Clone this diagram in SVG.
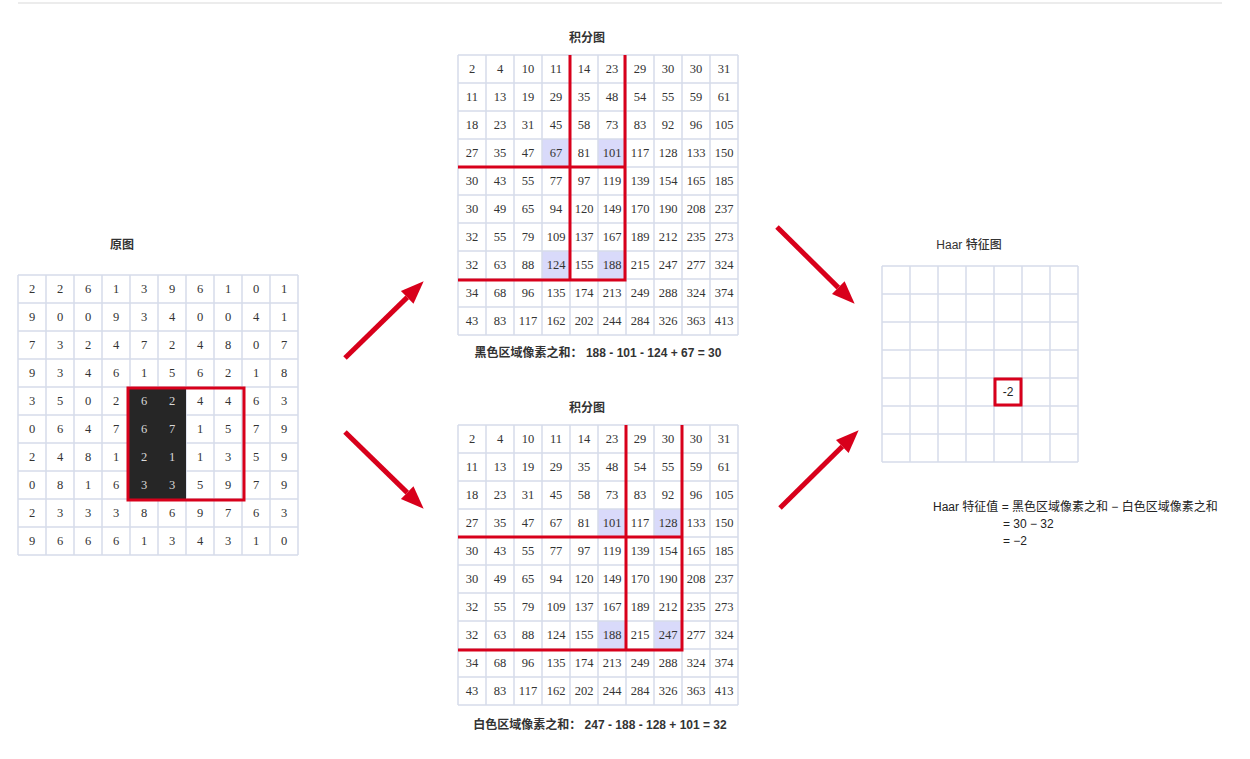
<svg xmlns="http://www.w3.org/2000/svg" width="1250" height="759" viewBox="0 0 1250 759">
<style>
.grid{fill:none;stroke:#d6dcea;stroke-width:1.5}
.num{font-family:"Liberation Serif","Times New Roman",serif;font-size:12.5px;fill:#333;text-anchor:middle}
.lt{fill:#d9d9d9}
.title{font-family:"Liberation Sans","Noto Sans CJK SC",sans-serif;font-size:12px;font-weight:bold;fill:#333;text-anchor:middle}
.cap{font-family:"Liberation Sans","Noto Sans CJK SC",sans-serif;font-size:12px;font-weight:bold;fill:#333;text-anchor:middle}
.txt{font-family:"Liberation Sans","Noto Sans CJK SC",sans-serif;font-size:12px;fill:#222}
.red{fill:none;stroke:#d8001b;stroke-width:3}
.hl{fill:#d9dafa}
.arrow{stroke:#d8001b;stroke-width:5;fill:none;marker-end:url(#ah)}
</style>
<defs>
<marker id="ah" markerUnits="userSpaceOnUse" markerWidth="24" markerHeight="20" viewBox="0 -10 24 20" refX="0" refY="0" orient="auto" overflow="visible">
<path d="M0,-9 L23,0 L0,9 Z" fill="#d8001b"/>
</marker>
</defs>
<rect width="1250" height="759" fill="#fff"/>
<line x1="18" y1="3" x2="1222" y2="3" stroke="#e6e6e6" stroke-width="1.5"/>

<g id="original">
<text class="title" x="122" y="249">原图</text>
<path class="grid" d="M18,275H298M18,303H298M18,331H298M18,359H298M18,387H298M18,415H298M18,443H298M18,471H298M18,499H298M18,527H298M18,555H298M18,275V555M46,275V555M74,275V555M102,275V555M130,275V555M158,275V555M186,275V555M214,275V555M242,275V555M270,275V555M298,275V555"/>
<rect x="129" y="387" width="57" height="113" fill="#262626"/>
<text class="num" y="293"><tspan x="32">2</tspan><tspan x="60">2</tspan><tspan x="88">6</tspan><tspan x="116">1</tspan><tspan x="144">3</tspan><tspan x="172">9</tspan><tspan x="200">6</tspan><tspan x="228">1</tspan><tspan x="256">0</tspan><tspan x="284">1</tspan></text>
<text class="num" y="321"><tspan x="32">9</tspan><tspan x="60">0</tspan><tspan x="88">0</tspan><tspan x="116">9</tspan><tspan x="144">3</tspan><tspan x="172">4</tspan><tspan x="200">0</tspan><tspan x="228">0</tspan><tspan x="256">4</tspan><tspan x="284">1</tspan></text>
<text class="num" y="349"><tspan x="32">7</tspan><tspan x="60">3</tspan><tspan x="88">2</tspan><tspan x="116">4</tspan><tspan x="144">7</tspan><tspan x="172">2</tspan><tspan x="200">4</tspan><tspan x="228">8</tspan><tspan x="256">0</tspan><tspan x="284">7</tspan></text>
<text class="num" y="377"><tspan x="32">9</tspan><tspan x="60">3</tspan><tspan x="88">4</tspan><tspan x="116">6</tspan><tspan x="144">1</tspan><tspan x="172">5</tspan><tspan x="200">6</tspan><tspan x="228">2</tspan><tspan x="256">1</tspan><tspan x="284">8</tspan></text>
<text class="num" y="405"><tspan x="32">3</tspan><tspan x="60">5</tspan><tspan x="88">0</tspan><tspan x="116">2</tspan><tspan class="lt" x="144">6</tspan><tspan class="lt" x="172">2</tspan><tspan x="200">4</tspan><tspan x="228">4</tspan><tspan x="256">6</tspan><tspan x="284">3</tspan></text>
<text class="num" y="433"><tspan x="32">0</tspan><tspan x="60">6</tspan><tspan x="88">4</tspan><tspan x="116">7</tspan><tspan class="lt" x="144">6</tspan><tspan class="lt" x="172">7</tspan><tspan x="200">1</tspan><tspan x="228">5</tspan><tspan x="256">7</tspan><tspan x="284">9</tspan></text>
<text class="num" y="461"><tspan x="32">2</tspan><tspan x="60">4</tspan><tspan x="88">8</tspan><tspan x="116">1</tspan><tspan class="lt" x="144">2</tspan><tspan class="lt" x="172">1</tspan><tspan x="200">1</tspan><tspan x="228">3</tspan><tspan x="256">5</tspan><tspan x="284">9</tspan></text>
<text class="num" y="489"><tspan x="32">0</tspan><tspan x="60">8</tspan><tspan x="88">1</tspan><tspan x="116">6</tspan><tspan class="lt" x="144">3</tspan><tspan class="lt" x="172">3</tspan><tspan x="200">5</tspan><tspan x="228">9</tspan><tspan x="256">7</tspan><tspan x="284">9</tspan></text>
<text class="num" y="517"><tspan x="32">2</tspan><tspan x="60">3</tspan><tspan x="88">3</tspan><tspan x="116">3</tspan><tspan x="144">8</tspan><tspan x="172">6</tspan><tspan x="200">9</tspan><tspan x="228">7</tspan><tspan x="256">6</tspan><tspan x="284">3</tspan></text>
<text class="num" y="545"><tspan x="32">9</tspan><tspan x="60">6</tspan><tspan x="88">6</tspan><tspan x="116">6</tspan><tspan x="144">1</tspan><tspan x="172">3</tspan><tspan x="200">4</tspan><tspan x="228">3</tspan><tspan x="256">1</tspan><tspan x="284">0</tspan></text>
<rect class="red" x="128" y="388" width="116" height="112"/>
</g>

<g id="integral-black">
<text class="title" x="587" y="42">积分图</text>
<rect class="hl" x="542" y="139" width="28" height="28"/>
<rect class="hl" x="598" y="139" width="28" height="28"/>
<rect class="hl" x="542" y="251" width="28" height="28"/>
<rect class="hl" x="598" y="251" width="28" height="28"/>
<path class="grid" d="M458,55H738M458,83H738M458,111H738M458,139H738M458,167H738M458,195H738M458,223H738M458,251H738M458,279H738M458,307H738M458,335H738M458,55V335M486,55V335M514,55V335M542,55V335M570,55V335M598,55V335M626,55V335M654,55V335M682,55V335M710,55V335M738,55V335"/>
<text class="num" y="73"><tspan x="472">2</tspan><tspan x="500">4</tspan><tspan x="528">10</tspan><tspan x="556">11</tspan><tspan x="584">14</tspan><tspan x="612">23</tspan><tspan x="640">29</tspan><tspan x="668">30</tspan><tspan x="696">30</tspan><tspan x="724">31</tspan></text>
<text class="num" y="101"><tspan x="472">11</tspan><tspan x="500">13</tspan><tspan x="528">19</tspan><tspan x="556">29</tspan><tspan x="584">35</tspan><tspan x="612">48</tspan><tspan x="640">54</tspan><tspan x="668">55</tspan><tspan x="696">59</tspan><tspan x="724">61</tspan></text>
<text class="num" y="129"><tspan x="472">18</tspan><tspan x="500">23</tspan><tspan x="528">31</tspan><tspan x="556">45</tspan><tspan x="584">58</tspan><tspan x="612">73</tspan><tspan x="640">83</tspan><tspan x="668">92</tspan><tspan x="696">96</tspan><tspan x="724">105</tspan></text>
<text class="num" y="157"><tspan x="472">27</tspan><tspan x="500">35</tspan><tspan x="528">47</tspan><tspan x="556">67</tspan><tspan x="584">81</tspan><tspan x="612">101</tspan><tspan x="640">117</tspan><tspan x="668">128</tspan><tspan x="696">133</tspan><tspan x="724">150</tspan></text>
<text class="num" y="185"><tspan x="472">30</tspan><tspan x="500">43</tspan><tspan x="528">55</tspan><tspan x="556">77</tspan><tspan x="584">97</tspan><tspan x="612">119</tspan><tspan x="640">139</tspan><tspan x="668">154</tspan><tspan x="696">165</tspan><tspan x="724">185</tspan></text>
<text class="num" y="213"><tspan x="472">30</tspan><tspan x="500">49</tspan><tspan x="528">65</tspan><tspan x="556">94</tspan><tspan x="584">120</tspan><tspan x="612">149</tspan><tspan x="640">170</tspan><tspan x="668">190</tspan><tspan x="696">208</tspan><tspan x="724">237</tspan></text>
<text class="num" y="241"><tspan x="472">32</tspan><tspan x="500">55</tspan><tspan x="528">79</tspan><tspan x="556">109</tspan><tspan x="584">137</tspan><tspan x="612">167</tspan><tspan x="640">189</tspan><tspan x="668">212</tspan><tspan x="696">235</tspan><tspan x="724">273</tspan></text>
<text class="num" y="269"><tspan x="472">32</tspan><tspan x="500">63</tspan><tspan x="528">88</tspan><tspan x="556">124</tspan><tspan x="584">155</tspan><tspan x="612">188</tspan><tspan x="640">215</tspan><tspan x="668">247</tspan><tspan x="696">277</tspan><tspan x="724">324</tspan></text>
<text class="num" y="297"><tspan x="472">34</tspan><tspan x="500">68</tspan><tspan x="528">96</tspan><tspan x="556">135</tspan><tspan x="584">174</tspan><tspan x="612">213</tspan><tspan x="640">249</tspan><tspan x="668">288</tspan><tspan x="696">324</tspan><tspan x="724">374</tspan></text>
<text class="num" y="325"><tspan x="472">43</tspan><tspan x="500">83</tspan><tspan x="528">117</tspan><tspan x="556">162</tspan><tspan x="584">202</tspan><tspan x="612">244</tspan><tspan x="640">284</tspan><tspan x="668">326</tspan><tspan x="696">363</tspan><tspan x="724">413</tspan></text>
<path class="red" d="M570,55V281M625,55V281M458,167H626.5M458,280H626.5"/>
<text class="cap" x="598" y="357">黑色区域像素之和：  188 - 101 - 124 + 67 = 30</text>
</g>

<g id="integral-white">
<text class="title" x="587" y="412">积分图</text>
<rect class="hl" x="598" y="509" width="28" height="28"/>
<rect class="hl" x="654" y="509" width="28" height="28"/>
<rect class="hl" x="598" y="621" width="28" height="28"/>
<rect class="hl" x="654" y="621" width="28" height="28"/>
<path class="grid" d="M458,425H738M458,453H738M458,481H738M458,509H738M458,537H738M458,565H738M458,593H738M458,621H738M458,649H738M458,677H738M458,705H738M458,425V705M486,425V705M514,425V705M542,425V705M570,425V705M598,425V705M626,425V705M654,425V705M682,425V705M710,425V705M738,425V705"/>
<text class="num" y="443"><tspan x="472">2</tspan><tspan x="500">4</tspan><tspan x="528">10</tspan><tspan x="556">11</tspan><tspan x="584">14</tspan><tspan x="612">23</tspan><tspan x="640">29</tspan><tspan x="668">30</tspan><tspan x="696">30</tspan><tspan x="724">31</tspan></text>
<text class="num" y="471"><tspan x="472">11</tspan><tspan x="500">13</tspan><tspan x="528">19</tspan><tspan x="556">29</tspan><tspan x="584">35</tspan><tspan x="612">48</tspan><tspan x="640">54</tspan><tspan x="668">55</tspan><tspan x="696">59</tspan><tspan x="724">61</tspan></text>
<text class="num" y="499"><tspan x="472">18</tspan><tspan x="500">23</tspan><tspan x="528">31</tspan><tspan x="556">45</tspan><tspan x="584">58</tspan><tspan x="612">73</tspan><tspan x="640">83</tspan><tspan x="668">92</tspan><tspan x="696">96</tspan><tspan x="724">105</tspan></text>
<text class="num" y="527"><tspan x="472">27</tspan><tspan x="500">35</tspan><tspan x="528">47</tspan><tspan x="556">67</tspan><tspan x="584">81</tspan><tspan x="612">101</tspan><tspan x="640">117</tspan><tspan x="668">128</tspan><tspan x="696">133</tspan><tspan x="724">150</tspan></text>
<text class="num" y="555"><tspan x="472">30</tspan><tspan x="500">43</tspan><tspan x="528">55</tspan><tspan x="556">77</tspan><tspan x="584">97</tspan><tspan x="612">119</tspan><tspan x="640">139</tspan><tspan x="668">154</tspan><tspan x="696">165</tspan><tspan x="724">185</tspan></text>
<text class="num" y="583"><tspan x="472">30</tspan><tspan x="500">49</tspan><tspan x="528">65</tspan><tspan x="556">94</tspan><tspan x="584">120</tspan><tspan x="612">149</tspan><tspan x="640">170</tspan><tspan x="668">190</tspan><tspan x="696">208</tspan><tspan x="724">237</tspan></text>
<text class="num" y="611"><tspan x="472">32</tspan><tspan x="500">55</tspan><tspan x="528">79</tspan><tspan x="556">109</tspan><tspan x="584">137</tspan><tspan x="612">167</tspan><tspan x="640">189</tspan><tspan x="668">212</tspan><tspan x="696">235</tspan><tspan x="724">273</tspan></text>
<text class="num" y="639"><tspan x="472">32</tspan><tspan x="500">63</tspan><tspan x="528">88</tspan><tspan x="556">124</tspan><tspan x="584">155</tspan><tspan x="612">188</tspan><tspan x="640">215</tspan><tspan x="668">247</tspan><tspan x="696">277</tspan><tspan x="724">324</tspan></text>
<text class="num" y="667"><tspan x="472">34</tspan><tspan x="500">68</tspan><tspan x="528">96</tspan><tspan x="556">135</tspan><tspan x="584">174</tspan><tspan x="612">213</tspan><tspan x="640">249</tspan><tspan x="668">288</tspan><tspan x="696">324</tspan><tspan x="724">374</tspan></text>
<text class="num" y="695"><tspan x="472">43</tspan><tspan x="500">83</tspan><tspan x="528">117</tspan><tspan x="556">162</tspan><tspan x="584">202</tspan><tspan x="612">244</tspan><tspan x="640">284</tspan><tspan x="668">326</tspan><tspan x="696">363</tspan><tspan x="724">413</tspan></text>
<path class="red" d="M626,425V651M682,425V651M458,537H683.5M458,650H683.5"/>
<text class="cap" x="600" y="729">白色区域像素之和：  247 - 188 - 128 + 101 = 32</text>
</g>

<g id="haar-map">
<text class="title" x="969" y="249" style="font-weight:500">Haar 特征图</text>
<path class="grid" d="M882,266H1078M882,294H1078M882,322H1078M882,350H1078M882,378H1078M882,406H1078M882,434H1078M882,462H1078M882,266V462M910,266V462M938,266V462M966,266V462M994,266V462M1022,266V462M1050,266V462M1078,266V462"/>
<rect class="red" x="995" y="379" width="26" height="26"/>
<text class="txt" x="1008" y="396" text-anchor="middle">-2</text>
</g>

<g id="haar-formula">
<text class="txt" x="933" y="511">Haar 特征值 = 黑色区域像素之和 − 白色区域像素之和</text>
<text class="txt" x="1003" y="528">= 30 − 32</text>
<text class="txt" x="1003" y="545">= −2</text>
</g>

<g id="connectors">
<path class="arrow" d="M345,358L407.2,297.4"/>
<path class="arrow" d="M345,432L407.2,492.6"/>
<path class="arrow" d="M777,227L838.3,287.6"/>
<path class="arrow" d="M780,508L842.3,446.5"/>
</g>
</svg>
